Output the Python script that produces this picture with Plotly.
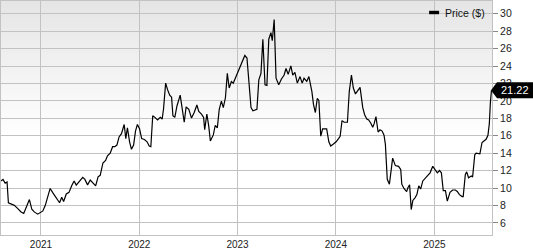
import plotly.graph_objects as go

dates = [
    "2020-08-06", "2020-08-13", "2020-08-21", "2020-08-28", "2020-09-02", "2020-09-12",
    "2020-09-24", "2020-10-07", "2020-10-19", "2020-10-29", "2020-11-06", "2020-11-19",
    "2020-11-28", "2020-12-07", "2020-12-20", "2020-12-29",
    "2021-01-08", "2021-01-17", "2021-01-26", "2021-02-04", "2021-02-13", "2021-02-22",
    "2021-03-04", "2021-03-11", "2021-03-19", "2021-03-26", "2021-04-05", "2021-04-15",
    "2021-04-25", "2021-05-04", "2021-05-12", "2021-05-24", "2021-06-05", "2021-06-13",
    "2021-06-23", "2021-07-03", "2021-07-13", "2021-07-23", "2021-08-01", "2021-08-09",
    "2021-08-19", "2021-08-29", "2021-09-05", "2021-09-15", "2021-09-24", "2021-10-02",
    "2021-10-10", "2021-10-18", "2021-10-27", "2021-11-06", "2021-11-12", "2021-11-18",
    "2021-11-26", "2021-12-03", "2021-12-11", "2021-12-18", "2021-12-25",
    "2022-01-02", "2022-01-10", "2022-01-20", "2022-01-30", "2022-02-07", "2022-02-13",
    "2022-02-20", "2022-02-28", "2022-03-10", "2022-03-20", "2022-03-27", "2022-04-01",
    "2022-04-09", "2022-04-16", "2022-04-24", "2022-05-01", "2022-05-06", "2022-05-13",
    "2022-05-21", "2022-06-02", "2022-06-09", "2022-06-17", "2022-06-24", "2022-07-04",
    "2022-07-14", "2022-07-24", "2022-08-03", "2022-08-10", "2022-08-20", "2022-08-28",
    "2022-09-01", "2022-09-09", "2022-09-16", "2022-09-22", "2022-10-03", "2022-10-10",
    "2022-10-18", "2022-10-25", "2022-11-02", "2022-11-09", "2022-11-17", "2022-11-24",
    "2022-12-01", "2022-12-09", "2022-12-16", "2022-12-24", "2022-12-31",
    "2023-01-06", "2023-01-14", "2023-01-21", "2023-01-28", "2023-02-05", "2023-02-12",
    "2023-02-20", "2023-02-27", "2023-03-06", "2023-03-14", "2023-03-21", "2023-03-29",
    "2023-04-05", "2023-04-13", "2023-04-20", "2023-04-27", "2023-05-05", "2023-05-10",
    "2023-05-17", "2023-05-24", "2023-06-03", "2023-06-13", "2023-06-23", "2023-06-30",
    "2023-07-08", "2023-07-18", "2023-07-25", "2023-08-02", "2023-08-11", "2023-08-21",
    "2023-08-29", "2023-09-05", "2023-09-15", "2023-09-23", "2023-10-04", "2023-10-10",
    "2023-10-17", "2023-10-24", "2023-10-30", "2023-11-06", "2023-11-13", "2023-11-28",
    "2023-12-06", "2023-12-13", "2023-12-23",
    "2024-01-02", "2024-01-11", "2024-01-17", "2024-01-24", "2024-02-01", "2024-02-13",
    "2024-02-20", "2024-02-28", "2024-03-06", "2024-03-14", "2024-03-21", "2024-03-31",
    "2024-04-10", "2024-04-17", "2024-04-25", "2024-05-02", "2024-05-10", "2024-05-17",
    "2024-05-22", "2024-05-29", "2024-06-06", "2024-06-13", "2024-06-21", "2024-06-28",
    "2024-07-03", "2024-07-10", "2024-07-18", "2024-07-25", "2024-07-30", "2024-08-09",
    "2024-08-21", "2024-08-29", "2024-09-02", "2024-09-10", "2024-09-20", "2024-09-25",
    "2024-10-01", "2024-10-07", "2024-10-13", "2024-10-21", "2024-10-28", "2024-11-04",
    "2024-11-11", "2024-11-19", "2024-11-29", "2024-12-09", "2024-12-16", "2024-12-26",
    "2025-01-05", "2025-01-12", "2025-01-20", "2025-01-27", "2025-02-03", "2025-02-11",
    "2025-02-18", "2025-02-28", "2025-03-10", "2025-03-20", "2025-03-27", "2025-04-04",
    "2025-04-14", "2025-04-18", "2025-04-26", "2025-05-01", "2025-05-08", "2025-05-18",
    "2025-05-23", "2025-05-31", "2025-06-05", "2025-06-19", "2025-06-27", "2025-07-04",
    "2025-07-12", "2025-07-19", "2025-07-24", "2025-07-28", "2025-08-01",
]

prices = [
    10.82, 11.0, 10.57, 10.7, 8.32, 8.17, 8.02, 7.65, 7.27, 7.09, 7.65, 8.69, 7.57, 7.27, 7.01, 7.2,
    7.38, 8.02, 9.14, 9.96, 9.51, 9.06, 8.58, 8.32, 8.95, 8.47, 9.33, 9.51, 10.26, 10.82, 10.34,
    10.82, 11.24, 11.0, 10.37, 10.93, 10.63, 10.26, 11.3, 11.46, 12.88, 13.18, 13.7, 14.0, 14.75,
    14.75, 14.94, 15.87, 16.24, 17.29, 15.68, 16.92, 15.31, 14.45, 14.94, 16.54, 17.29,
    16.8, 15.68, 15.57, 15.31, 14.83, 14.75, 18.3, 18.11, 17.81, 18.11, 17.92, 19.04, 22.04,
    21.29, 20.66, 20.43, 18.3, 18.11, 19.42, 20.66, 19.23, 17.55, 19.31, 19.04, 18.03, 18.67,
    19.53, 18.79, 18.48, 18.11, 16.7, 18.5, 17.1, 15.4, 16.1, 17.18, 16.92, 19.04, 19.98, 19.23,
    20.36, 23.16, 21.48, 22.23, 22.04, 22.6, 23.16,
    23.72, 24.28, 24.76, 25.21, 24.92, 22.6, 19.23, 18.86, 18.93, 19.04, 22.41, 23.16, 27.08,
    21.85, 21.78, 27.08, 27.83, 26.9, 29.33, 22.6, 21.85, 22.52, 22.97, 23.72, 23.05, 24.02,
    22.97, 23.27, 22.04, 22.79, 22.04, 22.6, 22.23, 22.79, 21.1, 19.6, 18.67, 20.28, 20.06,
    15.95, 16.8, 16.8, 15.31, 14.83, 15.05,
    15.31, 15.68, 15.95, 17.74, 17.55, 17.55, 21.1, 22.97, 21.48, 20.8, 21.1, 21.55, 19.23,
    18.41, 17.92, 17.81, 17.44, 16.99, 17.36, 18.19, 16.43, 16.69, 16.54, 16.06, 15.05, 11.01,
    10.45, 12.13, 13.44, 12.58, 12.5, 12.13, 10.45, 9.96, 9.59, 10.07, 10.37, 7.54, 8.58, 8.88,
    9.25, 10.26, 9.89, 10.82, 11.19, 11.5, 11.75, 12.5,
    12.13, 11.75, 12.02, 11.75, 9.7, 9.7, 8.5, 9.51, 9.78, 9.78, 9.62, 9.25, 9.03, 9.03, 11.57,
    11.86, 11.19, 11.38, 11.27, 13.82, 14.0, 13.93, 15.23, 15.38, 15.6, 16.06, 17.36, 19.8, 21.22,
]

y_ticks = [6, 8, 10, 12, 14, 16, 18, 20, 22, 24, 26, 28, 30]
series_name = "Price ($)"
last_label = f"{prices[-1]:.2f}"

FONT = "Liberation Sans, Arial, Helvetica, sans-serif"
GRID = "#c2c2c2"

fig = go.Figure()
fig.add_trace(go.Scatter(
    x=dates, y=prices, mode="lines", name=series_name,
    line=dict(color="#000000", width=1.2), showlegend=False, hoverinfo="skip",
))

shapes = []
# vertical background gradient (light grey at top fading to white), kept under the grid
n = 40
g_lo, g_hi = 0.42, 1.0
for i in range(n):
    y0 = g_lo + (g_hi - g_lo) * i / n
    y1 = g_lo + (g_hi - g_lo) * (i + 1) / n + 0.004
    t = (i + 0.5) / n
    g = round(255 - (255 - 229) * t)
    shapes.append(dict(type="rect", xref="x domain", yref="y domain", x0=0, x1=1,
                       y0=y0, y1=min(y1, 1), fillcolor=f"rgb({g},{g},{g})",
                       line=dict(width=0), layer="below"))

# legend swatch
shapes.append(dict(type="rect", xref="paper", yref="paper",
                   x0=429 / 492, x1=439 / 492, y0=1 - 13.5 / 239, y1=1 - 10 / 239,
                   fillcolor="#000000", line=dict(width=0), layer="above"))

# last-price tag
shapes.append(dict(type="path", xref="paper", yref="y", xsizemode="pixel", ysizemode="pixel",
                   xanchor=1, yanchor=prices[-1],
                   path="M -1 0 L 5 8 L 45 8 L 45 -8 L 5 -8 Z",
                   fillcolor="#000000", line=dict(width=0), layer="above"))

annotations = [
    dict(xref="paper", yref="paper", x=443 / 492, y=1 - 12 / 239, xanchor="left", yanchor="middle",
         text=series_name, showarrow=False, font=dict(family=FONT, size=10.5, color="#111111")),
    dict(xref="paper", yref="y", x=1, y=prices[-1], xanchor="left", yanchor="middle",
         xshift=7, text=last_label, showarrow=False,
         font=dict(family=FONT, size=11, color="#ffffff")),
]

fig.update_layout(
    width=533, height=250,
    margin=dict(l=0, r=41, t=1, b=10),
    paper_bgcolor="#ffffff", plot_bgcolor="#ffffff",
    shapes=shapes, annotations=annotations,
    font=dict(family=FONT, size=10.5, color="#222222"),
    xaxis=dict(
        type="date", range=["2020-08-05 12:00", "2025-08-03"],
        tick0="2021-01-01", dtick="M12", tickformat="%Y",
        showgrid=True, gridcolor=GRID,
        showline=True, linecolor=GRID, mirror=True,
        ticks="",
        tickfont=dict(family=FONT, size=10, color="#222222"),
    ),
    yaxis=dict(
        side="right", range=[4.62, 31.46],
        tickvals=y_ticks,
        showgrid=True, gridcolor=GRID,
        showline=True, linecolor=GRID, mirror=True,
        ticks="outside", tickcolor="#888888",
        tickfont=dict(family=FONT, size=10.5, color="#222222"),
    ),
)

fig.write_html("out.html")
